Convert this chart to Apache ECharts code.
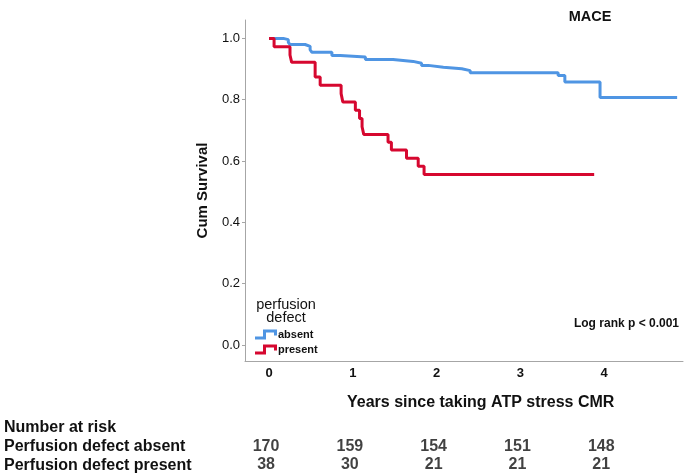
<!DOCTYPE html>
<html>
<head>
<meta charset="utf-8">
<script src="https://cdn.jsdelivr.net/npm/echarts@6/dist/echarts.min.js"></script>
<style>html,body{margin:0;padding:0;background:#fff}#c{width:685px;height:475px}</style>
</head>
<body>
<div id="c"></div>
<script>
// ---- data ----
const absentTimes  = [0, 0.17, 0.23, 0.25, 0.43, 0.49, 0.51, 0.75, 0.85, 1.15, 1.48, 1.72, 1.82, 1.90, 2.08, 2.30, 2.40, 3.45, 3.53, 3.95, 4.87];
const absentSurv   = [1.0, 0.996, 0.987, 0.980, 0.974, 0.963, 0.955, 0.944, 0.939, 0.931, 0.925, 0.919, 0.912, 0.906, 0.901, 0.895, 0.888, 0.879, 0.858, 0.807, 0.807];
const presentTimes = [0, 0.06, 0.25, 0.27, 0.55, 0.61, 0.86, 0.88, 1.03, 1.08, 1.11, 1.13, 1.42, 1.46, 1.64, 1.78, 1.85, 3.88];
const presentSurv  = [1.0, 0.973, 0.946, 0.922, 0.874, 0.847, 0.820, 0.793, 0.766, 0.739, 0.712, 0.687, 0.661, 0.636, 0.609, 0.583, 0.556, 0.556];
const xTicks = [0, 1, 2, 3, 4];
const yTicks = [0, 0.2, 0.4, 0.6, 0.8, 1.0];
const yTickLabels = ['0.0', '0.2', '0.4', '0.6', '0.8', '1.0'];
const riskTimes = [0, 1, 2, 3, 4];
const riskAbsent = [170, 159, 154, 151, 148];
const riskPresent = [38, 30, 21, 21, 21];
const groupNames = ['absent', 'present'];
const riskRowLabels = ['Number at risk', 'Perfusion defect absent', 'Perfusion defect present'];

const FONT = '"Liberation Sans", Arial, sans-serif';
const BLUE = '#4f95e3';
const RED = '#d6072f';
const stepIcon = 'path://M0,7 L8,7 L8,0 L22,0 L22,6 L19,6 L19,3 L11,3 L11,10 L0,10 Z';

const pairs = (t, v) => t.map((x, i) => [x, v[i]]);
const ROW_Y = [-0.330, -0.390];

const chart = echarts.init(document.getElementById('c'), null, {renderer: 'canvas'});
const riskLabel = {show: true, position: 'inside', offset: [-3, 0], formatter: p => p.data[2],
  fontFamily: FONT, fontSize: 16, fontWeight: 'bold', color: '#111'};
chart.setOption({
  animation: false,
  backgroundColor: '#fff',
  textStyle: {fontFamily: FONT},
  grid: {left: 245, right: 2, top: 20, bottom: 114, containLabel: false},
  title: [
    {text: 'MACE', left: 585, top: 4, textAlign: 'center',
     textStyle: {fontFamily: FONT, fontSize: 14.5, fontWeight: 'bold', color: '#111'}},
    {text: 'perfusion\ndefect', left: 281, top: 293, textAlign: 'center',
     textStyle: {fontFamily: FONT, fontSize: 14.5, fontWeight: 'normal', color: '#111', lineHeight: 13}}
  ],
  legend: {
    data: groupNames,
    orient: 'vertical', left: 250, top: 324,
    icon: stepIcon, itemWidth: 22, itemHeight: 10, itemGap: 4,
    textStyle: {fontFamily: FONT, fontSize: 11, fontWeight: 'bold', color: '#111', padding: [0, 0, 0, -4]}
  },
  xAxis: {
    type: 'value', min: -0.287, max: 4.94,
    splitLine: {show: false},
    axisLine: {onZero: false, lineStyle: {color: '#a6a6a6', width: 1}},
    axisTick: {show: false, customValues: xTicks},
    axisLabel: {customValues: xTicks, margin: 6, fontFamily: FONT, fontSize: 13, fontWeight: 'bold', color: '#111',
      formatter: v => String(v)}
  },
  yAxis: {
    type: 'value', min: -0.052, max: 1.06,
    name: 'Cum Survival', nameLocation: 'middle', nameGap: 35,
    nameTextStyle: {fontFamily: FONT, fontSize: 15, fontWeight: 'bold', color: '#111'},
    splitLine: {show: false},
    axisLine: {show: true, onZero: false, lineStyle: {color: '#a6a6a6', width: 1}},
    axisTick: {show: true, length: 3, customValues: yTicks, lineStyle: {color: '#a6a6a6'}},
    axisLabel: {customValues: yTicks, margin: 5, fontFamily: FONT, fontSize: 13, color: '#111',
      formatter: v => yTickLabels[yTicks.findIndex(t => Math.abs(t - v) < 1e-6)] ?? ''}
  },
  graphic: [
    {type: 'text', left: 347, top: 395, style: {text: 'Years since taking ATP stress CMR', font: 'bold 16px ' + FONT, fill: '#111'}},
    {type: 'text', right: 6, top: 318, style: {text: 'Log rank p < 0.001', font: 'bold 12px ' + FONT, fill: '#111'}},
    {type: 'text', left: 4, top: 420, style: {text: riskRowLabels[0], font: 'bold 16px ' + FONT, fill: '#111'}},
    {type: 'text', left: 4, top: 439, style: {text: riskRowLabels[1], font: 'bold 16px ' + FONT, fill: '#111'}},
    {type: 'text', left: 4, top: 458, style: {text: riskRowLabels[2], font: 'bold 16px ' + FONT, fill: '#111'}}
  ],
  series: [
    {name: groupNames[0], type: 'line', step: 'end', data: pairs(absentTimes, absentSurv),
     showSymbol: false, symbol: 'none', color: BLUE, lineStyle: {color: BLUE, width: 3}, z: 3},
    {name: groupNames[1], type: 'line', step: 'end', data: pairs(presentTimes, presentSurv),
     showSymbol: false, symbol: 'none', color: RED, lineStyle: {color: RED, width: 3}, z: 4},
    {name: 'riskAbsent', type: 'scatter', clip: false, symbolSize: 1, itemStyle: {color: 'rgba(0,0,0,0)'},
     data: riskTimes.map((t, i) => [t, ROW_Y[0], riskAbsent[i]]), label: riskLabel},
    {name: 'riskPresent', type: 'scatter', clip: false, symbolSize: 1, itemStyle: {color: 'rgba(0,0,0,0)'},
     data: riskTimes.map((t, i) => [t, ROW_Y[1], riskPresent[i]]), label: riskLabel}
  ]
});
</script>
</body>
</html>
